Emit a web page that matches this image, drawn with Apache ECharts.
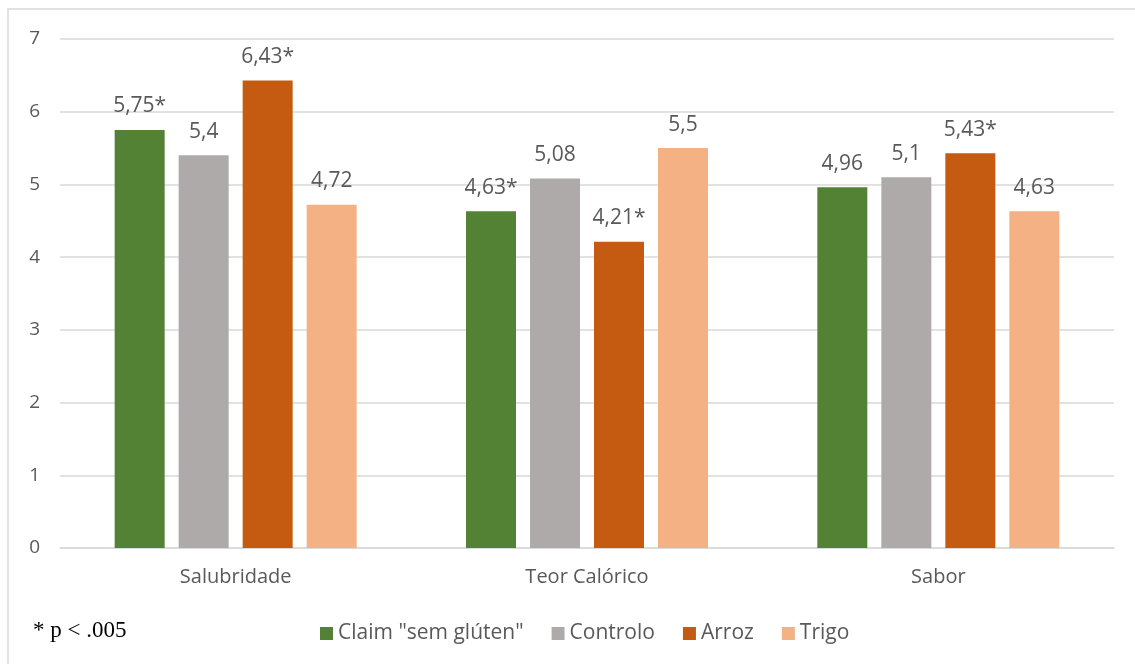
<!DOCTYPE html>
<html><head><meta charset="utf-8">
<script src="https://cdn.jsdelivr.net/npm/echarts@6/dist/echarts.min.js"></script>
<style>html,body{margin:0;padding:0;background:#fff}#c{width:1135px;height:664px}</style>
</head><body><div id="c"></div>
<script>
const categories = ['Salubridade', 'Teor Calórico', 'Sabor'];
const seriesNames = ['Claim "sem glúten"', 'Controlo', 'Arroz', 'Trigo'];
const claimValues = [5.75, 4.63, 4.96];
const controloValues = [5.4, 5.08, 5.1];
const arrozValues = [6.43, 4.21, 5.43];
const trigoValues = [4.72, 5.5, 4.63];
const claimSig = [true, true, false];
const controloSig = [false, false, false];
const arrozSig = [true, true, true];
const trigoSig = [false, false, false];
const yTicks = [0, 1, 2, 3, 4, 5, 6, 7];
const colors = ['#548235', '#AEAAAA', '#C55A11', '#F4B183'];
const footnote = '* p < .005';

const values = [claimValues, controloValues, arrozValues, trigoValues];
const sigs = [claimSig, controloSig, arrozSig, trigoSig];
const font = '"Open Sans", "Noto Sans", sans-serif';

const chart = echarts.init(document.getElementById('c'));
chart.setOption({
  animation: false,
  textStyle: { fontFamily: font },
  grid: { left: 60, right: 21, top: 39, bottom: 116, containLabel: false },
  xAxis: {
    type: 'category', data: categories,
    axisLine: { show: true, lineStyle: { color: '#D9D9D9', width: 1.5 } },
    axisTick: { show: false },
    axisLabel: { color: '#595959', fontSize: 20, margin: 19, fontFamily: font }
  },
  yAxis: {
    type: 'value', min: 0, max: 7, interval: 1,
    axisLine: { show: false }, axisTick: { show: false },
    splitLine: { lineStyle: { color: '#D9D9D9', width: 1.5 } },
    axisLabel: { color: '#595959', fontSize: 19, margin: 20, fontFamily: font,
      formatter: v => yTicks.includes(v) ? String(v) : '' }
  },
  legend: {
    data: seriesNames, bottom: 15, left: 315, itemWidth: 13, itemHeight: 13, itemGap: 28,
    icon: 'rect',
    textStyle: { color: '#595959', fontSize: 21, fontFamily: font }
  },
  graphic: [
    { type: 'rect', shape: { x: 8, y: 9, width: 1200, height: 700 },
      style: { fill: 'none', stroke: '#D9D9D9', lineWidth: 1.5 }, silent: true },
    { type: 'text', left: 33, top: 619,
      style: { text: footnote, font: '23px "Liberation Serif", "DejaVu Serif", serif', fill: '#000' } }
  ],
  series: values.map((vals, i) => ({
    name: seriesNames[i], type: 'bar', data: vals,
    barWidth: 50, barGap: '28%', barCategoryGap: '31%',
    itemStyle: { color: colors[i] },
    label: {
      show: true, position: 'top', distance: 13, color: '#595959', fontSize: 21, fontFamily: font,
      formatter: p => String(p.value).replace('.', ',') + (sigs[i][p.dataIndex] ? '*' : '')
    }
  }))
});
</script></body></html>
